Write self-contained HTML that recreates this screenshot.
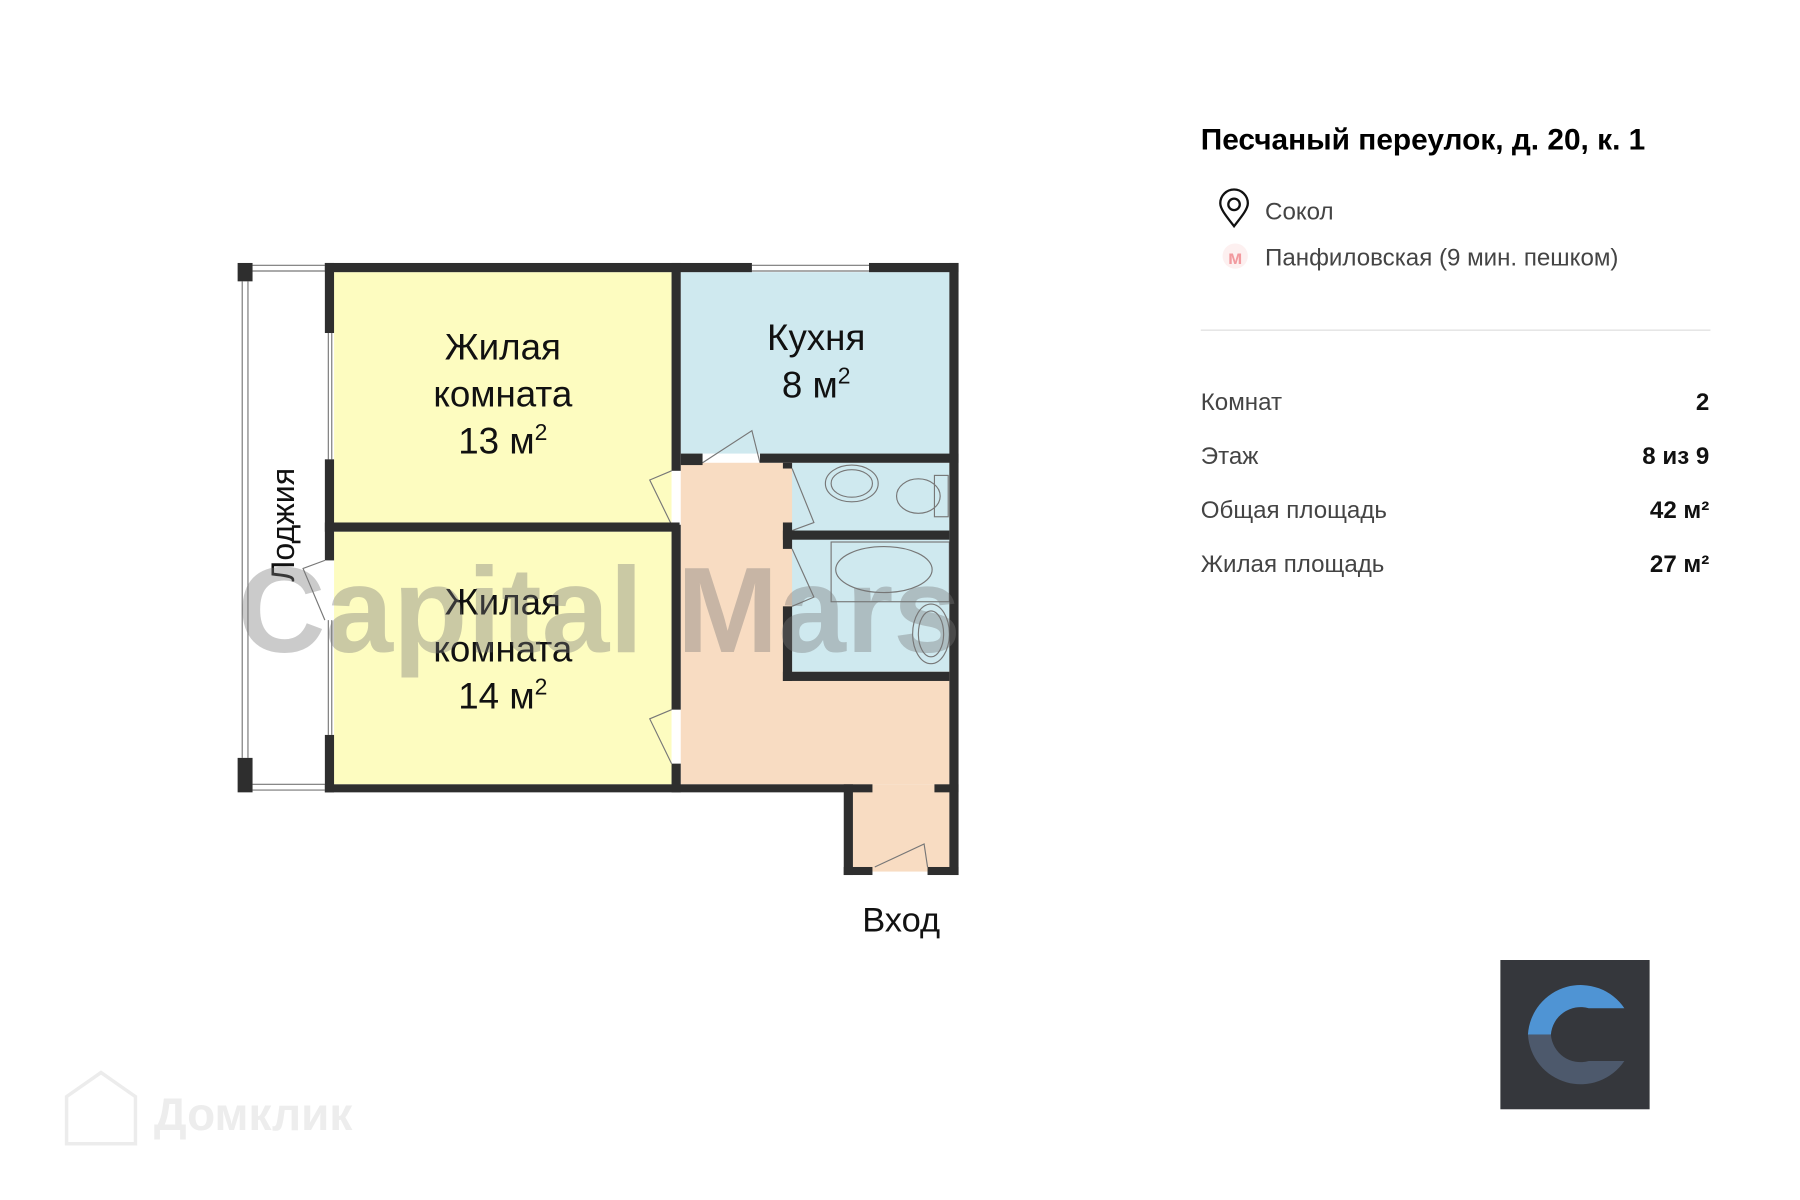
<!DOCTYPE html>
<html><head><meta charset="utf-8"><style>
html,body{margin:0;padding:0;background:#fff;width:1800px;height:1200px;overflow:hidden}
svg{display:block}
</style></head><body>
<svg width="1800" height="1200" viewBox="0 0 1568 1045" preserveAspectRatio="none" xmlns="http://www.w3.org/2000/svg" font-family="Liberation Sans, DejaVu Sans, sans-serif">
<rect x="291" y="237" width="294" height="218" fill="#fdfcc0"/>
<rect x="291" y="463" width="294" height="220" fill="#fdfcc0"/>
<rect x="593" y="237" width="234" height="158" fill="#cfe9ef"/>
<rect x="593" y="403" width="234" height="280" fill="#f8dcc2"/>
<rect x="690" y="403" width="137" height="182" fill="#cfe9ef"/>
<rect x="743" y="683" width="84" height="76" fill="#f8dcc2"/>
<g fill="none" stroke="#777" stroke-width="1">
<ellipse cx="742" cy="421" rx="23" ry="16"/><ellipse cx="742" cy="421" rx="18" ry="12"/>
<ellipse cx="800" cy="432" rx="19" ry="15"/><rect x="814" y="414" width="12" height="36"/>
<rect x="724" y="472" width="103" height="52"/><ellipse cx="770" cy="496" rx="42" ry="20"/>
<ellipse cx="811" cy="552" rx="16" ry="26"/><ellipse cx="811" cy="552" rx="11" ry="20"/>
<path d="M612 403 L655 375 L662 403"/>
<path d="M585 410 L566 418 L585 457"/>
<path d="M585 618 L566 626 L585 665"/>
<path d="M690 408 L709 455 L690 462"/>
<path d="M690 478 L709 520 L690 528"/>
<path d="M283 488 L264 495 L283 540"/>
<path d="M762 755 L805 735 L808 755"/>
<path d="M220 231 H283 M220 236 H283 M220 683 H283 M220 688 H283 M211 245 V660 M216 245 V660 M286 290 V400 M289 290 V400 M286 540 V640 M289 540 V640 M655 231 H757 M655 236 H757"/>
</g>
<g fill="#2e2e2e">
<rect x="207" y="229" width="13" height="16"/>
<rect x="207" y="660" width="13" height="30"/>
<rect x="283" y="229" width="372" height="8"/>
<rect x="757" y="229" width="78" height="8"/>
<rect x="283" y="229" width="8" height="61"/>
<rect x="283" y="400" width="8" height="88"/>
<rect x="283" y="640" width="8" height="50"/>
<rect x="283" y="455" width="309" height="8"/>
<rect x="283" y="683" width="477" height="7"/>
<rect x="814" y="683" width="21" height="7"/>
<rect x="585" y="229" width="8" height="181"/>
<rect x="585" y="457" width="8" height="161"/>
<rect x="585" y="665" width="8" height="25"/>
<rect x="593" y="395" width="19" height="10"/>
<rect x="662" y="395" width="173" height="8"/>
<rect x="827" y="229" width="8" height="533"/>
<rect x="682" y="403" width="8" height="5"/>
<rect x="682" y="455" width="8" height="23"/>
<rect x="682" y="528" width="8" height="65"/>
<rect x="682" y="462" width="145" height="8"/>
<rect x="682" y="585" width="145" height="8"/>
<rect x="735" y="683" width="8" height="79"/>
<rect x="735" y="755" width="25" height="7"/>
<rect x="808" y="755" width="27" height="7"/>
</g>
<g fill="#111" font-size="32" text-anchor="middle">
<text x="438" y="313">Жилая</text><text x="438" y="354">комната</text><text x="438" y="395">13 м<tspan font-size="20" dy="-12">2</tspan></text>
<text x="711" y="305">Кухня</text><text x="711" y="346">8 м<tspan font-size="20" dy="-12">2</tspan></text>
<text x="438" y="535">Жилая</text><text x="438" y="576">комната</text><text x="438" y="617">14 м<tspan font-size="20" dy="-12">2</tspan></text>
<text x="785" y="811" font-size="30">Вход</text>
<text transform="translate(256,457) rotate(-90)" font-size="28">Лоджия</text>
</g>
<text x="522" y="568" font-size="106" font-weight="bold" fill="#777" fill-opacity="0.38" text-anchor="middle">Capital Mars</text>
<text x="1046" y="130" font-size="26" font-weight="bold" fill="#000">Песчаный переулок, д. 20, к. 1</text>
<g fill="none" stroke="#111" stroke-width="2"><path d="M1075 197 C1068 188 1063 182 1063 177 A12 12 0 0 1 1087 177 C1087 182 1082 188 1075 197 Z"/><circle cx="1075" cy="178" r="5"/></g>
<text x="1102" y="191" font-size="21" fill="#444">Сокол</text>
<circle cx="1076" cy="223" r="11" fill="#fdf0f0"/>
<text x="1076" y="230" font-size="17" font-weight="bold" fill="#f29a9f" text-anchor="middle">м</text>
<text x="1102" y="231" font-size="21" fill="#444">Панфиловская (9 мин. пешком)</text>
<rect x="1046" y="287" width="444" height="1" fill="#ddd"/>
<g font-size="21" fill="#444"><text x="1046" y="357">Комнат</text><text x="1046" y="404">Этаж</text><text x="1046" y="451">Общая площадь</text><text x="1046" y="498">Жилая площадь</text></g>
<g font-size="21" font-weight="bold" fill="#111" text-anchor="end"><text x="1489" y="357">2</text><text x="1489" y="404">8 из 9</text><text x="1489" y="451">42 м²</text><text x="1489" y="498">27 м²</text></g>
<rect x="1307" y="836" width="130" height="130" fill="#35373c"/>
<path d="M1415 878 A46 46 0 0 0 1331 901 L1351 901 A26 26 0 0 1 1384 878 Z" fill="#4f94d4"/>
<path d="M1331 901 A46 46 0 0 0 1415 924 L1384 924 A26 26 0 0 1 1351 901 Z" fill="#4d596c"/>
<g fill="none" stroke="#ececec" stroke-width="3"><path d="M58 996 V955 L88 934 L118 955 V996 Z"/></g>
<text x="134" y="984" font-size="40" fill="#ededed" font-weight="bold">Домклик</text>
</svg>
</body></html>
